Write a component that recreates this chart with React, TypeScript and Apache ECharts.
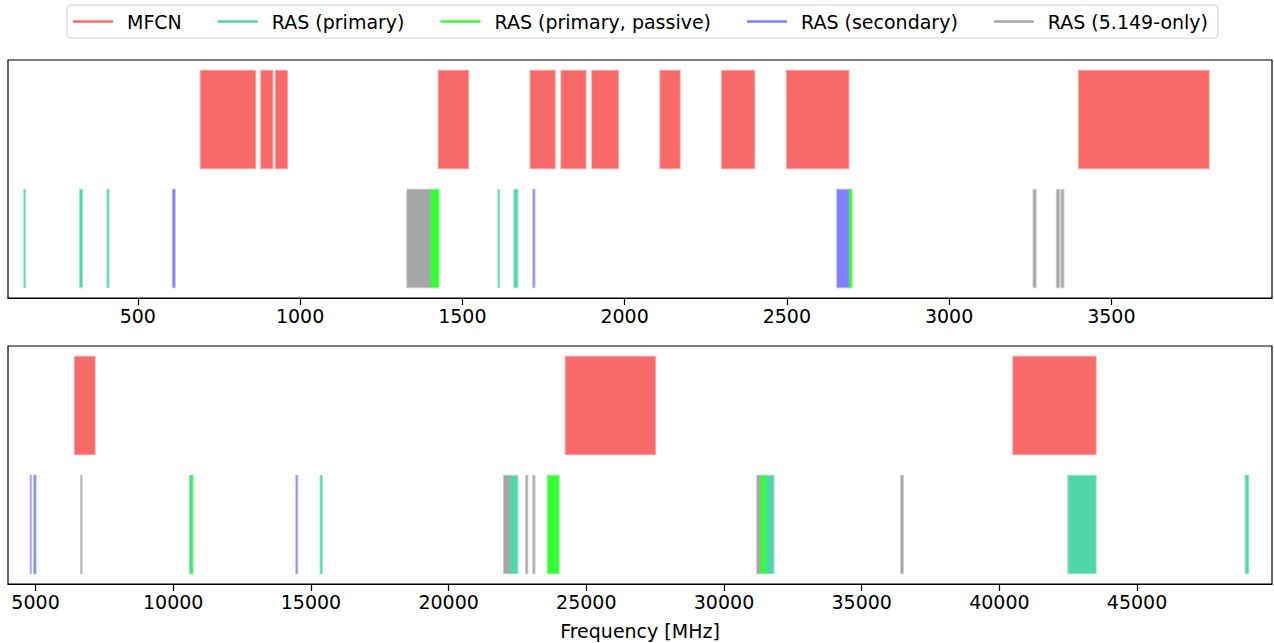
import React, { useEffect, useRef } from "react";
import * as echarts from "echarts";

// Frequency bands in MHz: [start, end]
const mfcnBands: number[][] = [
  [694, 862], [880, 915], [925, 960], [1427, 1518], [1710, 1785], [1805, 1880],
  [1900, 1980], [2110, 2170], [2300, 2400], [2500, 2690], [3400, 3800],
  [6425, 7150], [24250, 27500], [40500, 43500],
];
const rasPrimary: number[][] = [
  [150.05, 153], [322, 328.6], [406.1, 410], [1610.6, 1613.8], [1660, 1670],
  [4990, 5000], [10600, 10680], [15350, 15400], [22210, 22500], [31500, 31800],
  [42500, 43500], [48940, 49040],
];
const rasPassive: number[][] = [
  [1400, 1427], [2690, 2700], [10680, 10700], [23600, 24000], [31300, 31500],
];
const rasSecondary: number[][] = [
  [608, 614], [1718.8, 1722.2], [2655, 2690], [4825, 4835], [4950, 4990], [14470, 14500],
];
const ras5149: number[][] = [
  [1330, 1400], [3260, 3267], [3332, 3339], [3345.8, 3352.5], [6650, 6675.2],
  [22010, 22210], [22810, 22860], [23070, 23120], [31200, 31300], [36430, 36500],
];

const topTicks = [500, 1000, 1500, 2000, 2500, 3000, 3500];
const bottomTicks = [5000, 10000, 15000, 20000, 25000, 30000, 35000, 40000, 45000];

const SPLIT = 4000;

const groups = [
  { name: "MFCN", bands: mfcnBands, color: "#f86a6a", row: 1 },
  { name: "RAS (primary)", bands: rasPrimary, color: "#50d7a9", row: 0 },
  { name: "RAS (primary, passive)", bands: rasPassive, color: "#33ff33", row: 0 },
  { name: "RAS (secondary)", bands: rasSecondary, color: "#8080ff", row: 0 },
  { name: "RAS (5.149-only)", bands: ras5149, color: "#a6a6a6", row: 0 },
];

const FONT = "DejaVu Sans";
const FS = 19;

export default function App() {
  const ref = useRef<HTMLDivElement>(null);
  useEffect(() => {
    if (!ref.current) return;
    const chart = echarts.init(ref.current, undefined, { renderer: "svg" });

    const renderItem = (color: string) => (params: any, api: any) => {
      const s = api.coord([api.value(0), api.value(2)]);
      const e = api.coord([api.value(1), api.value(3)]);
      const cs = params.coordSys;
      const shape = echarts.graphic.clipRectByRect(
        { x: s[0], y: e[1], width: e[0] - s[0], height: s[1] - e[1] },
        { x: cs.x, y: cs.y, width: cs.width, height: cs.height }
      );
      if (!shape) return null;
      return {
        type: "rect",
        shape,
        style: { fill: color, stroke: color, lineWidth: 2, strokeOpacity: 0.55 },
      };
    };

    const series: any[] = [];
    [0, 1].forEach((gi) => {
      groups.forEach((g) => {
        const lo = g.row === 1 ? 1.1 : 0;
        const hi = g.row === 1 ? 2.0 : 0.9;
        const data = g.bands
          .filter((b) => (gi === 0 ? b[0] < SPLIT : b[0] >= SPLIT))
          .map((b) => [b[0], b[1], lo, hi]);
        series.push({
          type: "custom",
          name: g.name,
          xAxisIndex: gi,
          yAxisIndex: gi,
          itemStyle: { color: g.color },
          renderItem: renderItem(g.color),
          encode: { x: [0, 1], y: [2, 3] },
          data,
        });
      });
    });

    const xAxisCommon = {
      type: "value",
      axisLine: { show: true, onZero: false, lineStyle: { color: "#000", width: 1.2 } },
      axisTick: { show: true, length: 7, lineStyle: { color: "#000", width: 1.2 } },
      axisLabel: {
        color: "#000",
        fontSize: FS,
        fontFamily: FONT,
        margin: 8,
        formatter: (v: number) => String(v),
      },
      splitLine: { show: false },
    };

    chart.setOption({
      animation: false,
      backgroundColor: "#fff",
      legend: {
        left: 67,
        top: 5,
        orient: "horizontal",
        padding: [7, 10, 7, 6],
        itemGap: 36,
        itemWidth: 40,
        itemHeight: 2.5,
        icon: "rect",
        borderColor: "#d0d0d0",
        borderWidth: 1,
        borderRadius: 4,
        backgroundColor: "#fff",
        textStyle: { fontSize: FS, fontFamily: FONT, color: "#000", padding: [0, 0, 0, 9] },
        data: groups.map((g) => g.name),
      },
      grid: [
        { left: 8, width: 1264, top: 60, height: 238, show: true, borderColor: "#000", borderWidth: 1.2, containLabel: false },
        { left: 8, width: 1264, top: 346, height: 238, show: true, borderColor: "#000", borderWidth: 1.2, containLabel: false },
      ],
      xAxis: [
        {
          ...xAxisCommon,
          gridIndex: 0,
          min: 100,
          max: 3995,
          axisTick: { ...xAxisCommon.axisTick, customValues: topTicks },
          axisLabel: { ...xAxisCommon.axisLabel, customValues: topTicks },
        },
        {
          ...xAxisCommon,
          gridIndex: 1,
          min: 4000,
          max: 49900,
          axisTick: { ...xAxisCommon.axisTick, customValues: bottomTicks },
          axisLabel: { ...xAxisCommon.axisLabel, customValues: bottomTicks },
          name: "Frequency [MHz]",
          nameLocation: "middle",
          nameGap: 37,
          nameTextStyle: { fontSize: FS, fontFamily: FONT, color: "#000" },
        },
      ],
      yAxis: [
        { type: "value", gridIndex: 0, min: -0.1, max: 2.1, show: false, splitLine: { show: false } },
        { type: "value", gridIndex: 1, min: -0.1, max: 2.1, show: false, splitLine: { show: false } },
      ],
      series,
    });

    return () => chart.dispose();
  }, []);

  return (
    <div
      ref={ref}
      style={{ position: "fixed", left: 0, top: 0, width: 1274, height: 643, background: "#fff" }}
    />
  );
}
